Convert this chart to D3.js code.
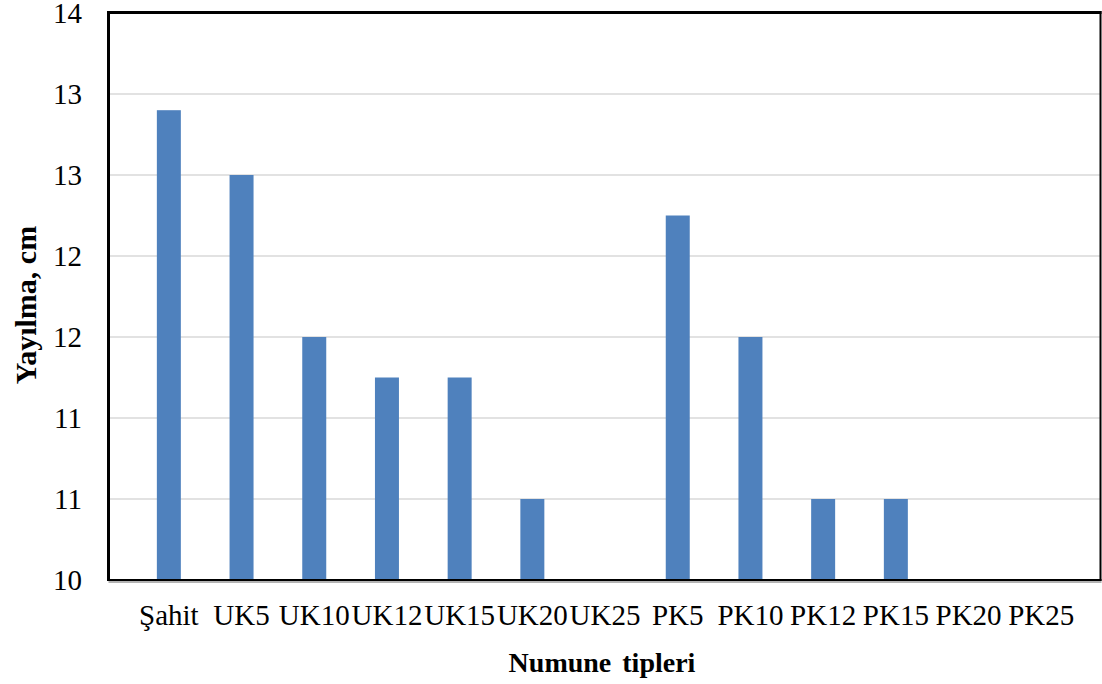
<!DOCTYPE html>
<html>
<head>
<meta charset="utf-8">
<script src="https://cdn.jsdelivr.net/npm/d3@7"></script>
<style>
  html, body { margin: 0; padding: 0; background: #fff; }
  svg { display: block; }
</style>
</head>
<body>
<svg id="chart" width="1102" height="684"></svg>
<script>
// Sample types along the x axis
const categories = ["Şahit", "UK5", "UK10", "UK12", "UK15", "UK20", "UK25",
                    "PK5", "PK10", "PK12", "PK15", "PK20", "PK25"];
// Spread (yayılma) in cm for each sample type
const spreadValues = [12.9, 12.5, 11.5, 11.25, 11.25, 10.5, 10,
                      12.25, 11.5, 10.5, 10.5, 10, 10];
// Y axis ticks (labels shown rounded to whole numbers)
const yTickValues = [10, 10.5, 11, 11.5, 12, 12.5, 13, 13.5];
const yTickLabels = ["10", "11", "11", "12", "12", "13", "13", "14"];

const SERIF = "'Liberation Serif', 'Times New Roman', Times, serif";

const svg = d3.select("#chart");

const plot = { left: 108.5, right: 1100.5, top: 12.5, bottom: 580 };

const x = d3.scaleBand()
  .domain(categories)
  .range([132.5, 1077.6])
  .paddingInner(0.67)
  .paddingOuter(0.335);

const y = d3.scaleLinear()
  .domain([10, 13.5])
  .range([580, 13]);

// Horizontal gridlines
svg.append("g")
  .selectAll("line")
  .data(yTickValues.slice(1))
  .join("line")
  .attr("x1", plot.left)
  .attr("x2", plot.right)
  .attr("y1", d => y(d))
  .attr("y2", d => y(d))
  .attr("stroke", "#d9d9d9")
  .attr("stroke-width", 1.4);

// Bars
svg.append("g")
  .selectAll("rect")
  .data(categories.map((c, i) => ({ c, v: spreadValues[i] })))
  .join("rect")
  .attr("x", d => x(d.c))
  .attr("width", x.bandwidth())
  .attr("y", d => y(d.v))
  .attr("height", d => y(10) - y(d.v))
  .attr("fill", "#4f81bd");

// Plot frame
const frame = svg.append("g").attr("fill", "none");
frame.append("line")
  .attr("x1", plot.left - 1).attr("x2", plot.right + 1)
  .attr("y1", plot.top).attr("y2", plot.top)
  .attr("stroke", "#000").attr("stroke-width", 3);
frame.append("line")
  .attr("x1", plot.left).attr("x2", plot.left)
  .attr("y1", plot.top - 1.5).attr("y2", plot.bottom + 1)
  .attr("stroke", "#000").attr("stroke-width", 3);
frame.append("line")
  .attr("x1", plot.right).attr("x2", plot.right)
  .attr("y1", plot.top - 1.5).attr("y2", plot.bottom + 1)
  .attr("stroke", "#000").attr("stroke-width", 2);
frame.append("line")
  .attr("x1", plot.left).attr("x2", plot.right + 1)
  .attr("y1", plot.bottom + 2).attr("y2", plot.bottom + 2)
  .attr("stroke", "#9a9a9a").attr("stroke-width", 1.5);
frame.append("line")
  .attr("x1", plot.left).attr("x2", plot.right + 1)
  .attr("y1", plot.bottom).attr("y2", plot.bottom)
  .attr("stroke", "#000").attr("stroke-width", 2);

// Y axis
const yAxis = svg.append("g")
  .attr("transform", "translate(82,0)")
  .call(d3.axisLeft(y)
    .tickValues(yTickValues)
    .tickFormat((d, i) => yTickLabels[i])
    .tickSize(0)
    .tickPadding(0));
yAxis.attr("font-family", null).attr("font-size", null);
yAxis.select(".domain").remove();
yAxis.selectAll("text")
  .style("font-family", SERIF)
  .style("font-size", "29px")
  .attr("fill", "#000");

// X axis
const xAxis = svg.append("g")
  .attr("transform", "translate(0,604)")
  .call(d3.axisBottom(x).tickSize(0).tickPadding(0));
xAxis.attr("font-family", null).attr("font-size", null);
xAxis.select(".domain").remove();
xAxis.selectAll("text")
  .style("font-family", SERIF)
  .style("font-size", "29px")
  .attr("fill", "#000");

// Axis titles
svg.append("text")
  .attr("x", 602)
  .attr("y", 672)
  .attr("text-anchor", "middle")
  .style("font-family", SERIF)
  .style("font-size", "28px")
  .style("font-weight", "bold")
  .attr("word-spacing", 4)
  .text("Numune tipleri");

svg.append("text")
  .attr("transform", "translate(36,305) rotate(-90)")
  .attr("text-anchor", "middle")
  .style("font-family", SERIF)
  .style("font-size", "30px")
  .style("font-weight", "bold")
  .text("Yayılma, cm");
</script>
</body>
</html>
